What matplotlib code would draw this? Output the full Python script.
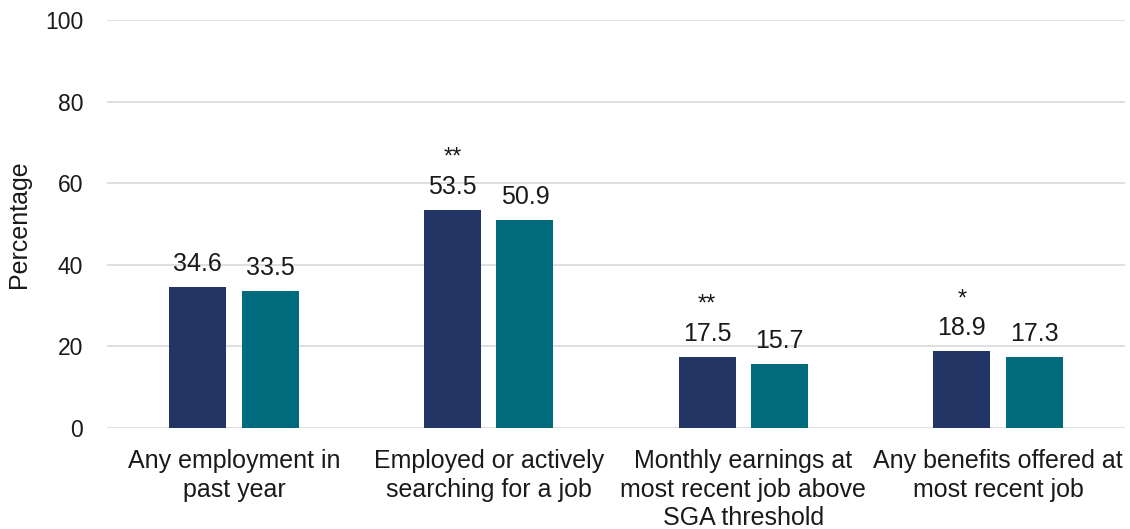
import matplotlib
matplotlib.use("Agg")
import matplotlib.pyplot as plt
import numpy as np

plt.rcParams['font.family'] = ['Liberation Sans', 'DejaVu Sans']

categories = [
    "Any employment in\npast year",
    "Employed or actively\nsearching for a job",
    "Monthly earnings at\nmost recent job above\nSGA threshold",
    "Any benefits offered at\nmost recent job",
]
series_a = [34.6, 53.5, 17.5, 18.9]
series_b = [33.5, 50.9, 15.7, 17.3]
significance = ["", "**", "**", "*"]
y_ticks = [0, 20, 40, 60, 80, 100]

navy = "#233565"
teal = "#006B7D"
text_color = "#1a1a1a"

fig = plt.figure(figsize=(11.3, 5.29), dpi=100)
ax = fig.add_axes([0.0944, 0.1909, 0.9015, 0.7713])

x = np.arange(len(categories))
width = 0.224
offset = 0.1425

bars_a = ax.bar(x - offset, series_a, width, color=navy, zorder=3)
bars_b = ax.bar(x + offset, series_b, width, color=teal, zorder=3)

for bars, vals in ((bars_a, series_a), (bars_b, series_b)):
    for b, v in zip(bars, vals):
        ax.annotate(f"{v:.1f}", (b.get_x() + b.get_width() / 2, v),
                    xytext=(0, 11.5), textcoords="offset points",
                    ha="center", va="baseline", fontsize=18, color=text_color)

for b, v, s in zip(bars_a, series_a, significance):
    if s:
        ax.annotate(s, (b.get_x() + b.get_width() / 2, v),
                    xytext=(0, 33), textcoords="offset points",
                    ha="center", va="baseline", fontsize=17, color=text_color)

ax.set_xlim(-0.5, len(categories) - 0.5)
ax.set_ylim(0, 100)
ax.set_yticks(y_ticks)
ax.set_xticks(x)
ax.set_xticklabels(categories, fontsize=18, color=text_color, linespacing=1.25)
ax.tick_params(axis="y", labelsize=16.5, labelcolor=text_color, length=0, pad=17)
ax.tick_params(axis="x", length=0, pad=15)
ax.set_ylabel("Percentage", fontsize=18, color=text_color)
ax.yaxis.set_label_coords(-0.074, 0.5)

ax.yaxis.grid(True, color="#d9d9d9", linewidth=1.2, zorder=0)
for sp in ax.spines.values():
    sp.set_visible(False)

fig.savefig("out.png", dpi=100)
